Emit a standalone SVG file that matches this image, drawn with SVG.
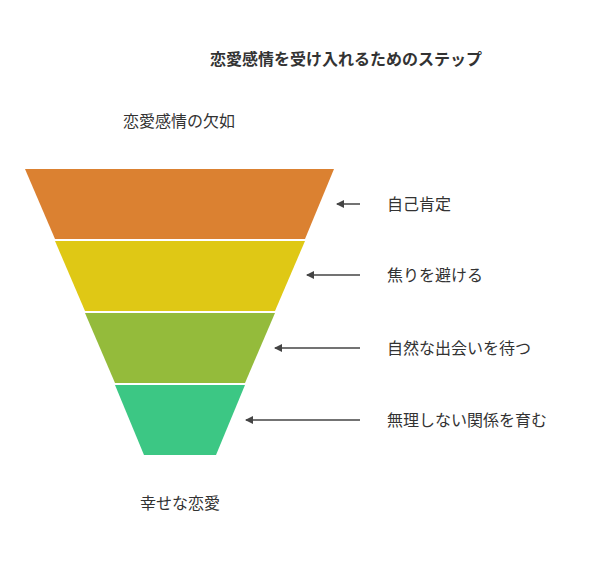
<svg xmlns="http://www.w3.org/2000/svg" width="613" height="564" viewBox="0 0 613 564">
<style>
text{font-family:"Noto Sans CJK JP","Noto Sans",sans-serif;fill:#333}
.l{font-size:16px}
.c{stroke:#444;stroke-width:1.5;fill:none}
</style>
<defs><marker id="a" markerWidth="8" markerHeight="8" refX="7" refY="4" orient="auto" markerUnits="userSpaceOnUse"><path d="M0,0L8,4L0,8z" fill="#444"/></marker></defs>
<rect width="613" height="564" fill="#fff"/>
<text x="346" y="65" text-anchor="middle" font-size="16" font-weight="bold">恋愛感情を受け入れるためのステップ</text>
<text x="179" y="127" text-anchor="middle" class="l">恋愛感情の欠如</text>
<text x="180" y="509" text-anchor="middle" class="l">幸せな恋愛</text>
<g id="n1"><polygon points="25,169 334,169 305,239 55,239" fill="#DB8131"/><text x="387" y="210" class="l">自己肯定</text></g>
<g id="n2"><polygon points="55,241 305,241 275,311 85,311" fill="#DFC815"/><text x="387" y="281" class="l">焦りを避ける</text></g>
<g id="n3"><polygon points="85,313 275,313 245,383 115,383" fill="#94BB3B"/><text x="387" y="354" class="l">自然な出会いを待つ</text></g>
<g id="n4"><polygon points="115,385 245,385 216,455 144,455" fill="#3CC784"/><text x="387" y="426" class="l">無理しない関係を育む</text></g>
<g id="edges">
<path class="c" d="M360,204H337" marker-end="url(#a)"/>
<path class="c" d="M360,275H307" marker-end="url(#a)"/>
<path class="c" d="M360,348H275" marker-end="url(#a)"/>
<path class="c" d="M360,420H246" marker-end="url(#a)"/>
</g>
</svg>
